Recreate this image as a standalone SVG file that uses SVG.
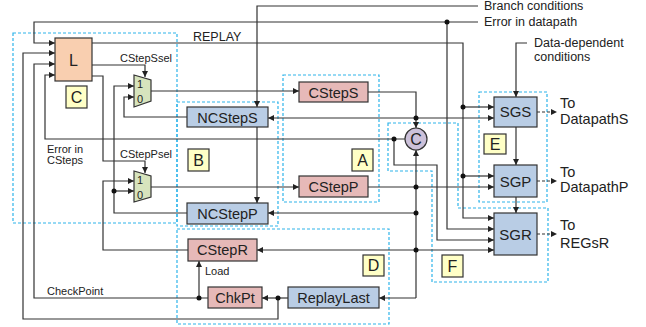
<svg xmlns="http://www.w3.org/2000/svg" width="646" height="327" viewBox="0 0 646 327">
<defs>
<marker id="ah" markerUnits="userSpaceOnUse" markerWidth="7" markerHeight="6" refX="6" refY="3" orient="auto">
<path d="M0,0 L6,3 L0,6 z" fill="#222"/>
</marker>
<style>
text{font-family:"Liberation Sans",Arial,sans-serif;fill:#222}
.w{fill:none;stroke:#333;stroke-width:1.2}
.a{marker-end:url(#ah)}
.dw{fill:none;stroke:#333;stroke-width:1.2;stroke-dasharray:3,2}
.dot{fill:#111}
.box{stroke:#333;stroke-width:1.2}
.cs{fill:#e6b9b8}
.bl{fill:#b9cde5}
.mx{fill:#d7e4bd}
.lab{fill:#ffffc6}
.bt{font-size:14.5px;text-anchor:middle}
.lt{font-size:16px;text-anchor:middle}
.sm{font-size:11px}
.md{font-size:12.5px}
.grp{fill:none;stroke:#2eb4ea;stroke-width:1.2;stroke-dasharray:3,2}
</style>
</defs>

<g id="groups">
<rect class="grp" x="13" y="33" width="164" height="190"/>
<rect class="grp" x="177" y="102" width="101" height="124"/>
<rect class="grp" x="283" y="75" width="96" height="127"/>
<rect class="grp" x="177" y="229" width="212" height="95"/>
<rect class="grp" x="479" y="92" width="68" height="110"/>
<polygon class="grp" points="388,123 458,123 458,208 548,208 548,282 432,282 432,171 388,171"/>
</g>

<g id="connectors">
<path class="w a" d="M478,6 H257 V107"/>
<path class="w a" d="M478,22 H34 V43 H55"/>
<path class="w a" d="M447,22 V229 H494"/>
<path class="w a" d="M92,43 H463 V218 H494"/>
<path class="w a" d="M463,107 H494"/>
<path class="w a" d="M463,176 H494"/>
<path class="w a" d="M92,65 H145 V77"/>
<path class="w a" d="M92,76 H103 V161 H145 V173"/>
<path class="w a" d="M151,91 H299"/>
<path class="w a" d="M151,187 H299"/>
<path class="w" d="M368,92 H416 V118"/>
<path class="w a" d="M416,118 H268"/>
<path class="w a" d="M416,118 H494"/>
<path class="w a" d="M416,118 V128"/>
<path class="w a" d="M187,117 H124 V97 H134"/>
<path class="w a" d="M257,127 V203"/>
<path class="w a" d="M187,213 H114 V86 H134"/>
<path class="w a" d="M114,191 H134"/>
<path class="w a" d="M368,187 H494"/>
<path class="w a" d="M416,298 V150"/>
<path class="w a" d="M416,298 H379"/>
<path class="w a" d="M416,213 H268"/>
<path class="w a" d="M416,250 H257"/>
<path class="w a" d="M416,250 H494"/>
<path class="w a" d="M405,139 H45 V75 H55"/>
<path class="w a" d="M394,139 V165 H437 V240 H494"/>
<path class="w a" d="M188,250 H103 V181 H134"/>
<path class="w a" d="M208,298 H34 V64 H55"/>
<path class="w a" d="M199,298 V261"/>
<path class="w a" d="M288,298 H262"/>
<path class="w a" d="M278,298 V319 H23 V53 H55"/>
<path class="w a" d="M516,127 V165"/>
<path class="w a" d="M516,197 V213"/>
<path class="w a" d="M527,43 H516 V97"/>
<path class="dw a" d="M537,112 H557"/>
<path class="dw a" d="M537,181 H557"/>
<path class="dw a" d="M537,234 H557"/>
<circle class="dot" cx="447" cy="22" r="2.5"/>
<circle class="dot" cx="463" cy="107" r="2.5"/>
<circle class="dot" cx="463" cy="176" r="2.5"/>
<circle class="dot" cx="416" cy="118" r="2.5"/>
<circle class="dot" cx="114" cy="191" r="2.5"/>
<circle class="dot" cx="416" cy="187" r="2.5"/>
<circle class="dot" cx="416" cy="213" r="2.5"/>
<circle class="dot" cx="416" cy="250" r="2.5"/>
<circle class="dot" cx="394" cy="139" r="2.5"/>
<circle class="dot" cx="199" cy="298" r="2.5"/>
<circle class="dot" cx="278" cy="298" r="2.5"/>
<text class="md" x="484" y="10">Branch conditions</text>
<text class="md" x="484" y="26">Error in datapath</text>
<text class="md" x="193" y="41">REPLAY</text>
<text class="sm" x="120" y="62">CStepSsel</text>
<text class="sm" x="120" y="158">CStepPsel</text>
<text class="sm" x="47" y="153">Error in</text>
<text class="sm" x="47" y="164">CSteps</text>
<text class="sm" x="47" y="295">CheckPoint</text>
<text class="sm" x="205" y="275">Load</text>
<text class="md" x="534" y="47">Data-dependent</text>
<text class="md" x="534" y="61">conditions</text>
<text style="font-size:14.5px" x="560" y="108">To</text>
<text style="font-size:14.5px" x="560" y="123.5">DatapathS</text>
<text style="font-size:14.5px" x="560" y="177">To</text>
<text style="font-size:14.5px" x="560" y="191.5">DatapathP</text>
<text style="font-size:14.5px" x="560" y="230">To</text>
<text style="font-size:14.5px" x="560" y="248">REGsR</text>
</g>

<g id="L"><rect class="box" x="55" y="38" width="37" height="43" fill="#f9cfb0"/><text class="lt" x="73.5" y="65.5">L</text></g>
<g id="muxS"><polygon class="box mx" points="134,75 151,80 151,101 134,107"/><text class="sm" x="137" y="88">1</text><text class="sm" x="137" y="103">0</text></g>
<g id="muxP"><polygon class="box mx" points="134,171 151,176 151,197 134,202"/><text class="sm" x="137" y="184">1</text><text class="sm" x="137" y="199">0</text></g>
<g id="NCStepS"><rect class="box bl" x="187" y="107" width="81" height="20"/><text class="bt" x="227.5" y="122.5">NCStepS</text></g>
<g id="NCStepP"><rect class="box bl" x="187" y="203" width="81" height="21"/><text class="bt" x="227.5" y="218.5">NCStepP</text></g>
<g id="CStepS"><rect class="box cs" x="299" y="82" width="69" height="20"/><text class="bt" x="333.5" y="97.5">CStepS</text></g>
<g id="CStepP"><rect class="box cs" x="299" y="176" width="69" height="21"/><text class="bt" x="333.5" y="191.5">CStepP</text></g>
<g id="CStepR"><rect class="box cs" x="188" y="239" width="69" height="22"/><text class="bt" x="222.5" y="255">CStepR</text></g>
<g id="ChkPt"><rect class="box cs" x="208" y="287" width="54" height="21"/><text class="bt" x="235" y="302.5">ChkPt</text></g>
<g id="ReplayLast"><rect class="box bl" x="288" y="287" width="91" height="21"/><text class="bt" x="333.5" y="302.5">ReplayLast</text></g>
<g id="Cmp"><circle class="box" cx="416" cy="139" r="11" fill="#ccc1da"/><text class="lt" x="416" y="145">C</text></g>
<g id="SGS"><rect class="box bl" x="494" y="97" width="43" height="30"/><text class="bt" style="font-size:15px" x="515.5" y="117">SGS</text></g>
<g id="SGP"><rect class="box bl" x="494" y="165" width="43" height="32"/><text class="bt" style="font-size:15px" x="515.5" y="186.5">SGP</text></g>
<g id="SGR"><rect class="box bl" x="494" y="213" width="43" height="42"/><text class="bt" style="font-size:15px" x="515.5" y="239.5">SGR</text></g>
<g id="labC"><rect class="box lab" x="66" y="86" width="21" height="22"/><text class="lt" x="76.5" y="102.5">C</text></g>
<g id="labB"><rect class="box lab" x="188" y="149" width="21" height="22"/><text class="lt" x="198.5" y="165.5">B</text></g>
<g id="labA"><rect class="box lab" x="352" y="149" width="21" height="22"/><text class="lt" x="362.5" y="165.5">A</text></g>
<g id="labE"><rect class="box lab" x="484" y="134" width="22" height="20"/><text class="lt" x="495" y="149.5">E</text></g>
<g id="labD"><rect class="box lab" x="363" y="255" width="21" height="21"/><text class="lt" x="373.5" y="271">D</text></g>
<g id="labF"><rect class="box lab" x="442" y="255" width="21" height="22"/><text class="lt" x="452.5" y="271.5">F</text></g>
</svg>
